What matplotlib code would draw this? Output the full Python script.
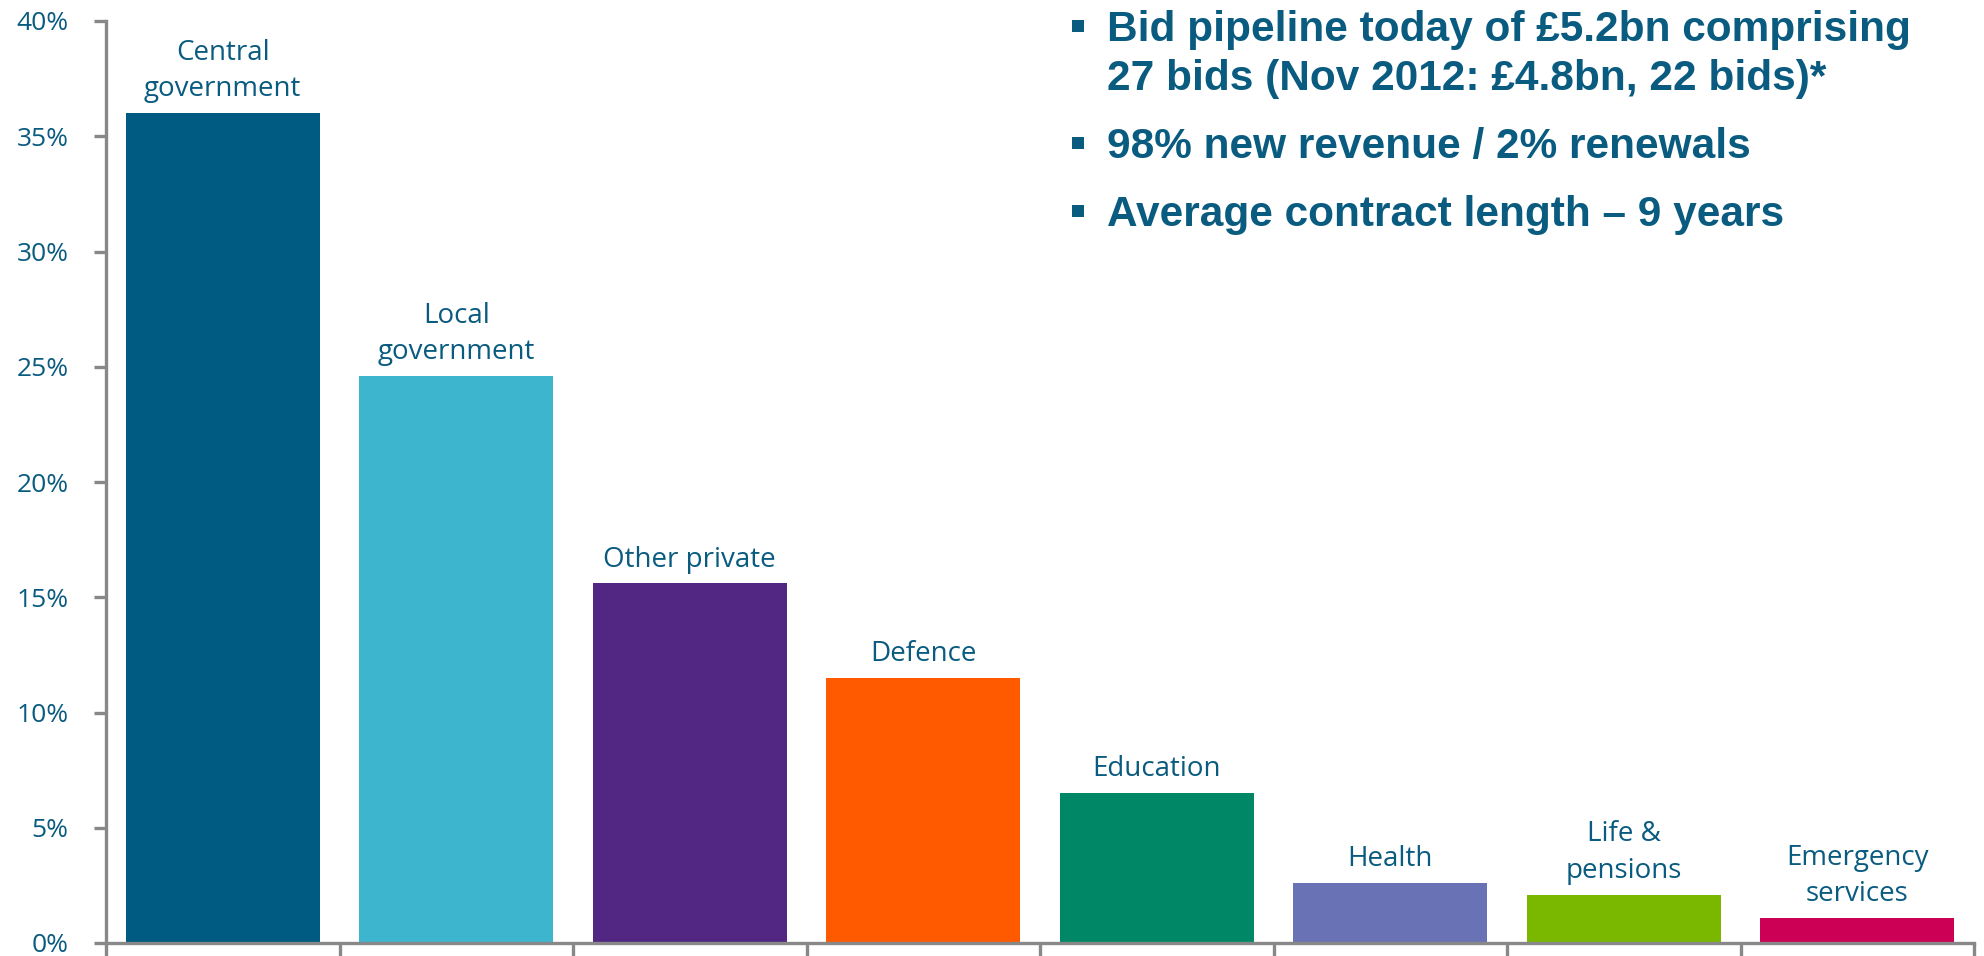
import matplotlib
matplotlib.use("Agg")
import matplotlib.pyplot as plt
from matplotlib.patches import Rectangle
import numpy as np

# Share of bid pipeline by market sector (%)
sectors = ["Central\ngovernment", "Local\ngovernment", "Other private", "Defence",
           "Education", "Health", "Life &\npensions", "Emergency\nservices"]
shares = [36.0, 24.6, 15.6, 11.5, 6.5, 2.6, 2.1, 1.1]
colors = ["#005B82", "#3DB5CF", "#522783", "#FF5A00",
          "#008866", "#6872B5", "#7AB800", "#CC0055"]
y_ticks = [0, 5, 10, 15, 20, 25, 30, 35, 40]
y_tick_labels = ["0%", "5%", "10%", "15%", "20%", "25%", "30%", "35%", "40%"]
bullet_lines = [["Bid pipeline today of £5.2bn comprising",
                 "27 bids (Nov 2012: £4.8bn, 22 bids)*"],
                ["98% new revenue / 2% renewals"],
                ["Average contract length \u2013 9 years"]]

W, H = 1984, 956
TEXT = "#0A5B80"
AXIS = "#888888"
LABEL_FONT = ["Open Sans", "DejaVu Sans"]

fig = plt.figure(figsize=(W / 100, H / 100), dpi=100)
ax = fig.add_axes([106 / W, 1 - 943 / H, (1974 - 106) / W, (943 - 21) / H])

x = np.arange(len(sectors))
ax.bar(x, shares, width=0.83, color=colors, zorder=2)

ax.set_xlim(-0.5, len(sectors) - 0.5)
ax.set_ylim(0, 40)
ax.set_yticks(y_ticks)
ax.set_yticklabels(y_tick_labels, fontfamily=LABEL_FONT, fontsize=19, color=TEXT)
ax.set_xticks(np.arange(-0.5, len(sectors), 1.0))
ax.set_xticklabels([])

for side in ("top", "right"):
    ax.spines[side].set_visible(False)
for side in ("left", "bottom"):
    ax.spines[side].set_color(AXIS)
    ax.spines[side].set_linewidth(2.4)
    ax.spines[side].set_zorder(3)
ax.tick_params(axis="both", direction="out", length=9, width=2.4, color=AXIS)
ax.tick_params(axis="y", pad=18)

for xi, val, name in zip(x, shares, sectors):
    ax.annotate(name, (xi, val), xytext=(0, 7), textcoords="offset points",
                ha="center", va="bottom", fontsize=20, color=TEXT,
                fontfamily=LABEL_FONT, linespacing=1.4)

# Key facts listed in the upper right: (bullet centre y, [baseline y per line]) in pixels
bullet_layout = [(26, [41, 90]), (143, [158]), (211, [226])]
for (cy, baselines), lines in zip(bullet_layout, bullet_lines):
    fig.patches.append(Rectangle((1072 / W, 1 - (cy + 6) / H), 12 / W, 12 / H,
                                 transform=fig.transFigure, facecolor=TEXT,
                                 edgecolor="none"))
    for by, line in zip(baselines, lines):
        fig.text(1107 / W, 1 - by / H, line, fontsize=30.5, color=TEXT,
                 fontweight="bold", fontfamily="Liberation Sans",
                 va="baseline", ha="left")

fig.savefig("out.png", dpi=100)
